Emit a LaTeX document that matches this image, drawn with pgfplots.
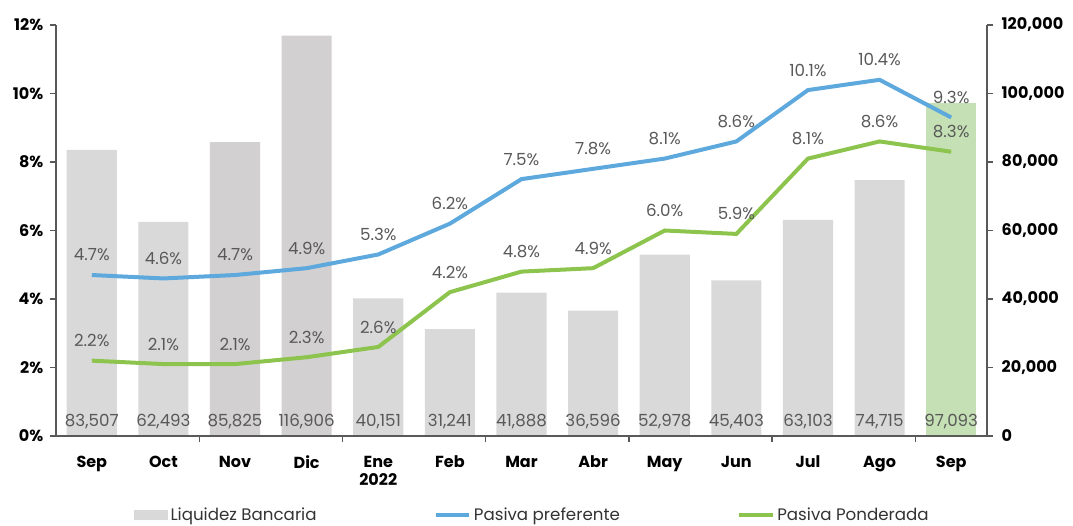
\documentclass[border=0pt]{standalone}
\usepackage{pgfplots}
\pgfplotsset{compat=1.18}
\usepackage{fontspec}
\setmainfont{Poppins}
\usetikzlibrary{calc}
\definecolor{barg}{HTML}{D9D9D9}
\definecolor{bard}{HTML}{D2D0D0}
\definecolor{barv}{HTML}{C5E0B4}
\definecolor{lblue}{HTML}{5DA9DD}
\definecolor{lgreen}{HTML}{8DC44E}
\definecolor{axgray}{HTML}{595959}
\definecolor{txt}{HTML}{595959}
\begin{document}
\begin{tikzpicture}
% ---------- right axis: bars ----------
\begin{axis}[name=ax2, scale only axis, width=698.25pt, height=308.25pt,
  xmin=-0.5, xmax=12.5, ymin=0, ymax=120000,
  axis y line*=right, axis x line=none,
  ytick={0,20000,40000,60000,80000,100000,120000},
  yticklabels={0,{20,000},{40,000},{60,000},{80,000},{100,000},{120,000}},
  scaled y ticks=false,
  yticklabel style={font=\bfseries\fontsize{12}{14}\selectfont, text=black, xshift=3pt},
  tick align=outside, major tick length=4.5pt,
  y axis line style={draw=axgray, line width=1.1pt},
  ytick style={draw=axgray, line width=1pt},
  clip=false]
\addplot[ybar, bar width=0.7, bar shift=0pt, fill=barg, draw=none]
  coordinates {(0,83507) (1,62493) (4,40151) (5,31241) (6,41888) (7,36596) (8,52978) (9,45403) (10,63103) (11,74715)};
\addplot[ybar, bar width=0.7, bar shift=0pt, fill=bard, draw=none]
  coordinates {(2,85825) (3,116906)};
\addplot[ybar, bar width=0.7, bar shift=0pt, fill=barv, draw=none]
  coordinates {(12,97093)};
\addplot[draw=none, mark=none, nodes near coords, point meta=explicit symbolic,
  every node near coord/.append style={anchor=center, yshift=11pt, text=txt, font=\fontsize{12.5}{14}\selectfont}]
  coordinates {(0,0) [{83,507}] (1,0) [{62,493}] (2,0) [{85,825}] (3,0) [{116,906}] (4,0) [{40,151}] (5,0) [{31,241}] (6,0) [{41,888}] (7,0) [{36,596}] (8,0) [{52,978}] (9,0) [{45,403}] (10,0) [{63,103}] (11,0) [{74,715}] (12,0) [{97,093}]};
\end{axis}
% ---------- left axis: lines ----------
\begin{axis}[name=ax, scale only axis, width=698.25pt, height=308.25pt,
  xmin=-0.5, xmax=12.5, ymin=0, ymax=12,
  axis y line*=left, axis x line*=bottom,
  ytick={0,2,4,6,8,10,12},
  yticklabels={0\%,2\%,4\%,6\%,8\%,10\%,12\%},
  yticklabel style={font=\bfseries\fontsize{12}{14}\selectfont, text=black, xshift=-1.5pt},
  xtick={0,1,2,3,4,5,6,7,8,9,10,11,12},
  xticklabels={Sep,Oct,Nov,Dic,{Ene\\2022},Feb,Mar,Abr,May,Jun,Jul,Ago,Sep},
  xticklabel style={font=\bfseries\fontsize{12}{14}\selectfont, text=black, align=center, yshift=-7pt},
  minor xtick={1.5,3.5,5.5,7.5,9.5,11.5},
  major x tick style={draw=none},
  minor x tick style={draw=axgray, line width=1pt},
  ytick style={draw=axgray, line width=1pt},
  tick align=outside, major tick length=4.5pt, minor tick length=4.5pt,
  axis line style={draw=axgray, line width=1.1pt},
  clip=false,
  legend columns=3,
  legend style={draw=none, fill=none, at={(0.512,-0.192)}, anchor=center,
    font=\fontsize{12.5}{14}\selectfont, text=black!80,
    /tikz/every even column/.append style={column sep=86pt}},
  ]
\addlegendimage{legend image code/.code={\fill[barg] (0pt,-3.5pt) rectangle (25pt,3.5pt);}}
\addlegendentry{Liquidez Bancaria}
\addplot[lblue, line width=3pt, mark=none, nodes near coords, point meta=explicit symbolic,
  legend image code/.code={\draw[lblue, line width=3pt] (0pt,0pt) -- (25pt,0pt);},
  every node near coord/.append style={anchor=center, yshift=15pt, text=txt, font=\fontsize{12.5}{14}\selectfont}]
  coordinates {(0,4.7) [4.7\%] (1,4.6) [4.6\%] (2,4.7) [4.7\%] (3,4.9) [4.9\%] (4,5.3) [5.3\%] (5,6.2) [6.2\%] (6,7.5) [7.5\%] (7,7.8) [7.8\%] (8,8.1) [8.1\%] (9,8.6) [8.6\%] (10,10.1) [10.1\%] (11,10.4) [10.4\%] (12,9.3) [9.3\%]};
\addlegendentry{Pasiva preferente}
\addplot[lgreen, line width=3pt, mark=none, nodes near coords, point meta=explicit symbolic,
  legend image code/.code={\draw[lgreen, line width=3pt] (0pt,0pt) -- (25pt,0pt);},
  every node near coord/.append style={anchor=center, yshift=15pt, text=txt, font=\fontsize{12.5}{14}\selectfont}]
  coordinates {(0,2.2) [2.2\%] (1,2.1) [2.1\%] (2,2.1) [2.1\%] (3,2.3) [2.3\%] (4,2.6) [2.6\%] (5,4.2) [4.2\%] (6,4.8) [4.8\%] (7,4.9) [4.9\%] (8,6.0) [6.0\%] (9,5.9) [5.9\%] (10,8.1) [8.1\%] (11,8.6) [8.6\%] (12,8.3) [8.3\%]};
\addlegendentry{Pasiva Ponderada}
\end{axis}
\pgfresetboundingbox
\path ($(ax.south west)+(-42pt,-66.75pt)$) rectangle ($(ax.north east)+(64.5pt,18.75pt)$);
\end{tikzpicture}
\end{document}
